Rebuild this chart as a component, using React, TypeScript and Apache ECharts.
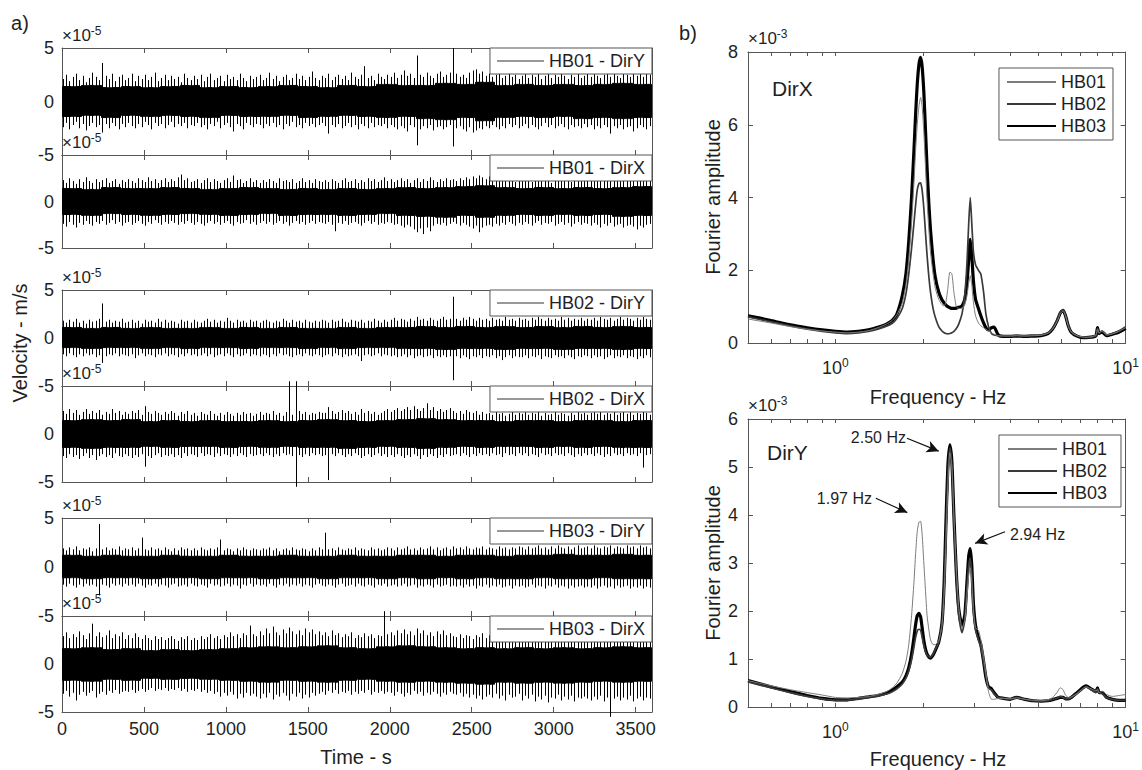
import React, { useEffect, useRef } from 'react';
import * as echarts from 'echarts';

// ================= Panel a) velocity records, units of 1e-5 m/s =================
const TIME_MAX = 3600;
const BIN_SECONDS = 20; // each spike-envelope value covers 20 s
const CORE_STEP = 6; // each core-band value covers 6 bins (120 s)

const TRACE_NAMES = ['HB01 - DirY', 'HB01 - DirX', 'HB02 - DirY', 'HB02 - DirX', 'HB03 - DirY', 'HB03 - DirX'];

// spike maxima / minima per 20 s bin, 20 values = 400 s per row
const HI_1 = [
  2.1, 2.5, 1.9, 2.3, 2.6, 2.0, 2.4, 1.8, 2.2, 2.7, 2.3, 2.0, 3.6, 2.4, 2.1, 2.6, 1.9, 2.3, 2.5, 2.0,
  2.2, 2.6, 1.9, 2.4, 2.1, 2.5, 2.0, 2.3, 2.7, 1.9, 2.2, 2.5, 2.0, 2.4, 2.1, 2.3, 1.8, 2.6, 2.2, 2.0,
  2.4, 2.1, 2.5, 1.9, 2.3, 2.6, 2.0, 2.2, 2.4, 1.9, 2.5, 2.1, 2.3, 2.0, 2.6, 2.2, 1.9, 2.4, 2.1, 2.3,
  2.5, 2.0, 2.2, 2.7, 2.1, 2.4, 1.9, 2.3, 2.5, 2.0, 2.2, 2.6, 2.1, 2.4, 2.0, 2.3, 2.8, 2.2, 2.0, 2.4,
  2.2, 2.6, 2.0, 2.3, 2.5, 2.1, 2.4, 2.0, 2.7, 2.3, 2.1, 2.5, 3.3, 2.2, 2.4, 2.0, 2.6, 2.3, 2.1, 2.5,
  2.3, 2.7, 2.2, 2.5, 2.9, 2.4, 2.6, 2.2, 4.3, 2.5, 2.3, 2.7, 2.4, 2.2, 2.6, 2.8, 2.3, 2.5, 2.7, 5.0,
  2.6, 2.3, 2.5, 2.2, 2.7, 2.9, 3.0, 2.6, 2.8, 2.4, 2.6, 2.3, 2.5, 2.7, 2.2, 2.4, 2.6, 2.3, 2.5, 2.1,
  2.4, 2.6, 2.2, 2.5, 2.3, 2.7, 2.1, 2.4, 2.6, 2.2, 2.5, 2.3, 2.8, 2.4, 2.1, 2.5, 2.3, 2.6, 2.2, 2.4,
  2.6, 2.3, 2.7, 2.4, 2.2, 2.5, 2.8, 2.3, 2.6, 2.4, 2.2, 2.7, 2.5, 2.3, 2.9, 2.4, 2.6, 2.3, 2.7, 2.5,
];
const LO_1 = [
  -2.4, -2.0, -2.6, -2.2, -1.9, -2.5, -2.1, -2.7, -2.3, -2.0, -2.4, -2.2, -2.9, -2.1, -2.5, -2.0, -2.3, -2.6, -2.1, -2.4,
  -2.0, -2.3, -2.5, -2.1, -2.4, -1.9, -2.2, -2.6, -2.0, -2.3, -2.1, -2.5, -2.2, -1.9, -2.4, -2.1, -2.3, -2.0, -2.5, -2.2,
  -2.3, -2.0, -2.4, -2.2, -2.6, -2.1, -2.3, -1.9, -2.5, -2.2, -2.0, -2.4, -2.8, -2.1, -2.3, -2.6, -2.0, -2.2, -2.4, -2.1,
  -2.2, -2.5, -2.1, -2.3, -2.0, -2.4, -2.2, -2.6, -2.1, -2.3, -1.9, -2.4, -2.2, -2.5, -2.0, -2.3, -2.1, -2.4, -2.2, -2.0,
  -2.3, -3.0, -2.2, -2.4, -2.1, -2.5, -2.3, -2.0, -2.4, -2.2, -2.6, -2.1, -2.3, -2.5, -2.0, -2.4, -2.2, -2.3, -2.1, -2.5,
  -2.2, -2.4, -2.6, -2.3, -2.5, -2.8, -2.2, -2.4, -4.1, -2.6, -2.3, -2.5, -2.2, -2.7, -2.4, -2.3, -2.6, -2.4, -2.2, -4.2,
  -2.5, -2.3, -2.6, -2.8, -2.4, -2.9, -2.7, -2.5, -2.6, -2.3, -2.5, -2.2, -2.4, -2.6, -2.3, -2.5, -2.1, -2.4, -2.2, -2.5,
  -2.3, -2.1, -2.5, -2.2, -2.4, -2.6, -2.3, -2.0, -2.4, -2.2, -2.5, -2.3, -2.1, -2.4, -2.6, -2.2, -2.4, -2.3, -2.5, -2.1,
  -2.4, -2.2, -2.6, -2.3, -2.5, -2.2, -2.4, -3.0, -2.3, -2.5, -2.2, -2.6, -2.4, -2.3, -2.8, -2.5, -2.2, -2.4, -2.6, -2.3,
];
const HI_2 = [
  2.3, 2.0, 2.5, 2.2, 1.9, 2.4, 2.1, 2.6, 2.2, 2.0, 2.4, 2.1, 2.3, 2.5, 2.0, 2.2, 2.4, 1.9, 2.3, 2.1,
  2.4, 2.2, 2.0, 2.5, 2.3, 2.1, 2.6, 2.2, 2.4, 2.0, 2.3, 2.5, 2.1, 2.4, 2.2, 2.6, 2.9, 2.3, 2.5, 2.1,
  2.2, 2.4, 2.0, 2.3, 2.5, 2.1, 2.4, 2.2, 2.0, 2.3, 2.5, 2.1, 2.8, 2.3, 2.4, 2.0, 2.2, 2.5, 2.1, 2.3,
  2.0, 2.3, 2.1, 2.4, 2.2, 2.0, 2.5, 2.2, 2.3, 2.1, 2.4, 2.0, 2.2, 2.5, 2.1, 2.3, 2.0, 2.4, 2.2, 2.1,
  2.3, 2.1, 2.4, 2.2, 2.0, 2.3, 2.5, 2.1, 2.2, 2.4, 2.0, 2.3, 2.1, 2.5, 2.2, 2.4, 2.1, 2.3, 2.6, 2.2,
  2.4, 2.1, 2.3, 2.5, 2.2, 2.4, 2.0, 2.3, 2.5, 2.1, 2.4, 2.2, 2.6, 2.3, 2.1, 2.4, 2.2, 2.5, 2.3, 2.4,
  2.2, 2.5, 2.3, 2.6, 2.4, 2.7, 2.5, 2.8, 2.6, 2.4, 2.7, 2.5, 2.3, 2.6, 2.4, 2.2, 2.5, 2.3, 2.1, 2.4,
  2.2, 2.5, 2.3, 2.1, 2.4, 2.6, 2.2, 2.5, 2.3, 2.0, 2.4, 2.2, 2.6, 2.3, 2.5, 2.1, 2.4, 2.2, 2.5, 2.3,
  2.6, 2.3, 2.5, 2.2, 2.7, 2.4, 2.6, 2.3, 2.5, 2.8, 2.4, 2.6, 2.3, 2.7, 2.5, 2.8, 2.4, 2.6, 2.9, 2.5,
];
const LO_2 = [
  -2.4, -2.7, -2.2, -2.5, -2.8, -2.3, -2.5, -2.1, -2.4, -2.6, -2.2, -2.4, -2.1, -2.5, -2.3, -2.0, -2.4, -2.2, -2.6, -2.3,
  -2.2, -2.5, -2.3, -2.1, -2.4, -2.6, -2.2, -2.4, -2.0, -2.3, -2.5, -2.2, -2.4, -2.1, -2.3, -2.5, -2.2, -2.4, -2.1, -2.3,
  -2.5, -2.2, -2.4, -2.6, -2.3, -2.1, -2.4, -2.2, -2.5, -2.3, -2.1, -2.4, -2.6, -2.2, -2.4, -2.3, -2.0, -2.4, -2.2, -2.5,
  -2.3, -2.1, -2.4, -2.2, -2.5, -2.3, -2.1, -2.4, -2.2, -2.6, -2.3, -2.1, -2.4, -2.2, -2.5, -2.3, -2.1, -2.4, -2.2, -2.3,
  -2.4, -2.2, -2.5, -3.2, -2.3, -2.4, -2.1, -2.5, -2.3, -2.2, -2.4, -2.6, -2.3, -2.1, -2.4, -2.2, -2.5, -2.3, -2.4, -2.2,
  -2.3, -2.5, -2.4, -2.6, -2.8, -2.5, -2.7, -3.0, -3.3, -2.9, -3.5, -2.8, -3.2, -2.6, -2.4, -2.5, -2.3, -2.6, -2.4, -2.2,
  -2.4, -2.6, -2.3, -2.5, -2.7, -2.9, -2.6, -3.3, -2.8, -2.6, -2.5, -2.7, -2.4, -2.6, -2.3, -2.5, -2.2, -2.4, -2.6, -2.3,
  -2.5, -2.2, -2.4, -2.6, -2.3, -2.1, -2.5, -2.3, -2.4, -2.2, -2.6, -2.4, -2.2, -2.5, -2.3, -2.7, -2.4, -2.2, -2.5, -2.3,
  -2.4, -2.6, -2.3, -2.5, -2.8, -2.4, -2.6, -2.3, -2.7, -2.5, -2.4, -2.8, -2.6, -2.5, -2.7, -3.0, -2.6, -2.8, -2.5, -2.4,
];
const HI_3 = [
  1.8, 1.6, 1.9, 1.7, 2.0, 1.6, 1.8, 1.5, 1.9, 1.7, 1.8, 2.0, 3.6, 1.7, 1.9, 1.6, 1.8, 1.7, 2.0, 1.6,
  1.7, 1.9, 1.6, 1.8, 1.5, 1.9, 1.7, 1.8, 1.6, 2.0, 1.7, 1.9, 1.6, 1.8, 1.7, 1.5, 1.9, 1.7, 1.8, 1.6,
  1.9, 1.7, 1.6, 1.8, 2.0, 1.7, 1.9, 1.6, 1.8, 1.7, 2.1, 1.8, 1.6, 1.9, 1.7, 1.8, 1.6, 1.9, 1.7, 1.8,
  1.6, 1.8, 1.9, 1.7, 1.6, 1.8, 1.7, 2.0, 1.8, 1.6, 1.9, 1.7, 1.8, 1.6, 1.9, 1.7, 1.6, 1.8, 1.7, 1.9,
  1.8, 1.6, 1.9, 1.7, 1.8, 2.0, 1.7, 1.6, 1.9, 1.8, 1.7, 1.9, 1.6, 1.8, 1.7, 2.0, 1.8, 1.6, 1.9, 1.7,
  1.9, 2.1, 1.8, 2.0, 1.9, 1.7, 2.0, 1.8, 2.2, 1.9, 2.0, 1.8, 2.1, 1.9, 1.8, 2.0, 2.2, 1.9, 2.0, 4.3,
  2.0, 1.8, 2.1, 1.9, 2.2, 2.0, 1.8, 2.1, 1.9, 2.0, 1.8, 2.1, 1.9, 2.0, 1.8, 2.2, 1.9, 2.0, 1.8, 2.1,
  1.9, 2.0, 1.8, 2.1, 1.9, 2.2, 2.0, 1.8, 2.1, 1.9, 2.0, 1.8, 2.2, 1.9, 2.1, 1.8, 2.0, 1.9, 2.1, 1.8,
  2.0, 1.9, 2.1, 1.8, 2.2, 2.0, 1.9, 2.1, 1.8, 2.0, 2.2, 1.9, 2.1, 2.0, 1.8, 2.1, 1.9, 2.2, 2.0, 1.9,
];
const LO_3 = [
  -1.7, -1.9, -1.6, -1.8, -2.0, -1.7, -1.9, -1.6, -1.8, -1.7, -2.0, -1.8, -2.6, -1.9, -1.7, -1.8, -1.6, -1.9, -1.7, -1.8,
  -1.9, -1.7, -2.1, -1.8, -1.6, -1.9, -1.7, -1.8, -2.0, -1.7, -1.8, -1.6, -1.9, -1.7, -1.8, -2.0, -1.7, -1.9, -1.6, -1.8,
  -1.7, -1.9, -1.8, -1.6, -1.9, -1.7, -2.0, -1.8, -1.7, -1.9, -1.6, -1.8, -2.0, -1.7, -1.9, -1.8, -1.6, -1.9, -1.7, -1.8,
  -1.9, -1.7, -1.8, -2.0, -1.7, -1.9, -1.6, -1.8, -1.7, -1.9, -2.0, -1.8, -1.7, -1.9, -1.6, -1.8, -1.9, -1.7, -1.8, -2.0,
  -1.8, -1.7, -1.9, -1.6, -1.8, -2.0, -1.7, -1.9, -1.8, -1.7, -1.9, -2.4, -1.8, -1.7, -1.9, -1.8, -1.6, -1.9, -1.7, -1.8,
  -1.9, -1.8, -2.0, -1.9, -1.7, -2.0, -1.8, -2.1, -1.9, -1.8, -2.0, -1.9, -1.8, -2.1, -1.9, -2.0, -1.8, -2.0, -1.9, -4.4,
  -1.9, -2.1, -1.8, -2.0, -2.2, -1.9, -2.0, -1.8, -2.1, -1.9, -2.0, -1.8, -2.1, -1.9, -2.3, -2.0, -1.8, -2.1, -1.9, -2.0,
  -2.0, -1.8, -2.1, -1.9, -2.0, -1.8, -2.2, -1.9, -2.0, -2.1, -1.8, -2.0, -1.9, -2.1, -1.8, -2.0, -2.2, -1.9, -2.0, -1.8,
  -1.9, -2.1, -1.8, -2.0, -1.9, -2.2, -2.0, -1.8, -2.1, -1.9, -2.0, -1.8, -2.1, -1.9, -2.0, -2.2, -1.9, -2.1, -1.8, -2.0,
];
const HI_4 = [
  2.4, 2.1, 2.6, 2.2, 2.5, 2.0, 2.3, 2.6, 2.1, 2.4, 2.2, 2.5, 2.0, 2.3, 2.1, 2.6, 2.2, 2.4, 2.0, 2.3,
  2.1, 2.4, 2.2, 2.5, 2.0, 2.9, 2.3, 2.1, 2.4, 2.2, 2.0, 2.3, 2.1, 2.4, 2.2, 1.9, 2.3, 2.1, 2.4, 2.0,
  2.2, 1.9, 2.3, 2.1, 2.0, 2.4, 2.1, 1.9, 2.2, 2.0, 2.3, 2.1, 1.9, 2.2, 2.0, 2.3, 2.1, 2.2, 1.9, 2.1,
  2.3, 2.0, 2.2, 2.1, 2.4, 2.0, 2.2, 1.9, 2.3, 5.5, 2.0, 5.5, 2.4, 2.1, 2.3, 2.0, 2.2, 2.1, 2.3, 2.2,
  2.2, 2.8, 2.4, 2.1, 2.3, 2.5, 2.2, 2.4, 2.1, 2.3, 2.0, 2.6, 2.2, 2.4, 2.1, 2.3, 2.0, 2.2, 2.4, 2.6,
  2.3, 2.5, 2.7, 2.4, 2.6, 2.8, 2.5, 2.9, 2.6, 2.4, 2.7, 3.2, 2.5, 2.8, 2.4, 2.6, 2.3, 2.5, 2.7, 2.4,
  2.2, 2.4, 2.1, 2.5, 2.3, 2.2, 2.4, 2.0, 2.3, 2.1, 2.2, 2.0, 2.3, 2.1, 2.2, 1.9, 2.1, 2.3, 2.0, 2.2,
  2.1, 2.3, 2.0, 2.2, 2.1, 2.3, 1.9, 2.2, 2.0, 2.1, 2.3, 2.0, 2.2, 2.1, 1.9, 2.2, 2.0, 2.3, 2.1, 2.2,
  2.0, 2.2, 2.4, 2.1, 2.3, 2.0, 2.2, 2.1, 2.3, 2.0, 2.2, 2.4, 2.1, 2.3, 2.0, 2.2, 2.1, 2.3, 2.2, 2.0,
];
const LO_4 = [
  -2.3, -2.5, -2.1, -2.4, -2.2, -2.6, -2.3, -2.0, -2.5, -2.2, -2.7, -2.3, -2.1, -2.4, -2.2, -2.5, -2.0, -2.3, -2.4, -2.1,
  -2.3, -2.5, -2.2, -2.4, -2.1, -3.4, -2.3, -2.5, -2.2, -2.0, -2.4, -2.2, -2.3, -2.1, -2.4, -2.2, -2.5, -2.0, -2.3, -2.1,
  -2.2, -2.4, -2.0, -2.3, -2.1, -2.2, -2.4, -2.0, -2.3, -2.1, -2.2, -2.4, -2.1, -2.3, -2.0, -2.2, -2.4, -2.1, -2.3, -2.2,
  -2.1, -2.3, -2.0, -2.2, -2.4, -2.1, -2.3, -2.0, -2.2, -2.1, -2.3, -5.5, -2.2, -2.4, -2.1, -2.3, -2.0, -2.2, -2.1, -2.3,
  -2.2, -4.8, -2.1, -2.3, -2.0, -2.2, -2.4, -2.1, -2.3, -2.0, -2.2, -2.5, -2.3, -2.1, -2.4, -2.2, -2.0, -2.3, -2.1, -2.4,
  -2.2, -2.4, -2.1, -2.3, -2.5, -2.2, -2.4, -2.1, -2.3, -2.6, -2.2, -2.4, -2.1, -2.3, -2.5, -2.2, -2.4, -2.1, -2.3, -2.2,
  -2.1, -2.3, -2.0, -2.2, -2.4, -2.1, -2.3, -2.0, -2.2, -2.1, -2.3, -2.0, -2.2, -2.1, -2.4, -2.0, -2.2, -2.1, -2.3, -2.0,
  -2.2, -2.0, -2.3, -2.1, -2.2, -2.4, -2.0, -2.2, -2.1, -2.3, -2.0, -2.2, -2.1, -2.3, -2.0, -2.2, -2.4, -2.1, -2.3, -2.0,
  -2.2, -2.1, -2.3, -2.0, -2.2, -2.4, -2.1, -2.3, -2.0, -2.2, -2.1, -2.3, -2.0, -2.2, -2.1, -2.3, -2.0, -3.5, -2.2, -2.1,
];
const HI_5 = [
  1.9, 1.7, 2.0, 1.8, 2.1, 1.7, 1.9, 1.8, 2.0, 1.6, 1.9, 4.4, 1.8, 2.0, 1.7, 1.9, 1.8, 2.1, 1.7, 1.9,
  1.8, 2.0, 1.7, 1.9, 3.0, 1.8, 1.7, 2.0, 1.8, 1.9, 1.7, 2.0, 1.8, 1.6, 1.9, 1.7, 2.0, 1.8, 1.9, 1.7,
  1.9, 1.7, 2.0, 1.8, 1.7, 1.9, 1.8, 2.0, 2.8, 1.7, 1.9, 1.8, 1.6, 1.9, 1.7, 2.0, 1.8, 1.7, 1.9, 1.8,
  1.7, 1.9, 1.8, 2.0, 1.7, 1.9, 1.6, 1.8, 1.9, 1.7, 2.0, 1.8, 1.7, 1.9, 1.8, 1.6, 1.9, 1.7, 2.0, 1.8,
  3.5, 1.8, 1.9, 1.7, 2.0, 1.8, 1.7, 1.9, 1.8, 2.0, 1.7, 1.9, 1.8, 1.7, 2.0, 1.8, 1.9, 1.7, 1.8, 2.0,
  1.9, 1.7, 2.0, 1.8, 1.9, 2.1, 1.8, 1.9, 1.7, 2.0, 1.8, 1.9, 2.1, 1.8, 2.0, 1.7, 1.9, 2.0, 1.8, 2.1,
  1.9, 2.0, 1.8, 2.1, 1.9, 1.8, 2.0, 1.9, 2.1, 1.8, 2.0, 1.9, 1.8, 2.1, 1.9, 2.0, 1.8, 2.0, 1.9, 2.1,
  2.0, 1.8, 2.1, 1.9, 2.0, 2.2, 1.9, 2.0, 1.8, 2.1, 1.9, 2.2, 2.0, 1.9, 2.1, 1.8, 2.0, 2.2, 1.9, 2.0,
  2.1, 1.9, 2.2, 2.0, 1.9, 2.1, 2.0, 2.2, 1.9, 2.1, 2.0, 1.9, 2.2, 2.0, 2.1, 1.9, 2.2, 2.0, 2.1, 1.9,
];
const LO_5 = [
  -1.8, -2.0, -1.7, -1.9, -2.1, -1.8, -2.0, -1.7, -1.9, -1.8, -2.0, -2.9, -1.8, -1.9, -2.1, -1.7, -1.9, -1.8, -2.0, -1.7,
  -1.9, -1.8, -2.0, -1.7, -1.9, -2.1, -1.8, -1.9, -1.7, -2.0, -1.8, -1.9, -2.1, -1.8, -1.7, -2.0, -1.9, -1.8, -2.0, -1.7,
  -1.9, -2.0, -1.8, -1.9, -2.1, -1.7, -1.9, -1.8, -2.0, -1.9, -1.7, -2.0, -1.8, -1.9, -2.2, -1.8, -1.9, -1.7, -2.0, -1.8,
  -1.9, -1.8, -2.0, -1.7, -1.9, -2.1, -1.8, -1.9, -1.7, -2.0, -1.8, -1.9, -1.7, -2.0, -1.8, -1.9, -2.1, -1.8, -1.7, -1.9,
  -2.0, -1.8, -1.9, -2.1, -1.8, -1.7, -2.0, -1.9, -1.8, -2.0, -1.7, -1.9, -2.0, -1.8, -1.9, -2.1, -1.8, -1.9, -1.7, -2.0,
  -1.9, -1.8, -2.0, -1.9, -1.7, -2.0, -1.9, -1.8, -2.1, -1.9, -2.0, -1.8, -1.9, -2.1, -1.8, -2.0, -1.9, -1.8, -2.0, -1.9,
  -2.0, -1.9, -2.1, -1.8, -2.0, -1.9, -2.2, -1.9, -2.0, -1.8, -2.1, -1.9, -2.0, -1.8, -2.1, -2.0, -1.9, -2.2, -1.9, -2.0,
  -1.9, -2.1, -2.0, -1.8, -2.1, -1.9, -2.0, -2.2, -1.9, -2.0, -1.8, -2.1, -1.9, -2.0, -2.2, -1.9, -2.1, -2.0, -1.9, -2.1,
  -2.0, -2.1, -1.9, -2.2, -2.0, -1.9, -2.1, -2.0, -2.2, -1.9, -2.1, -2.0, -1.9, -2.2, -2.0, -2.1, -1.9, -2.2, -2.0, -2.1,
];
const HI_6 = [
  2.9, 3.3, 2.7, 3.1, 2.8, 3.4, 3.0, 2.6, 3.2, 4.2, 2.9, 3.3, 2.8, 3.0, 3.5, 2.7, 3.1, 2.9, 3.3, 2.6,
  3.0, 2.7, 3.2, 2.8, 2.6, 3.0, 2.7, 2.5, 2.9, 2.6, 2.8, 2.5, 2.7, 2.9, 2.6, 2.4, 2.8, 2.6, 2.9, 2.5,
  2.7, 2.5, 2.9, 2.6, 2.8, 3.1, 2.7, 2.9, 2.6, 3.0, 2.8, 3.3, 2.9, 3.1, 2.7, 3.2, 3.0, 4.0, 3.1, 2.9,
  3.4, 3.0, 3.7, 3.2, 3.9, 3.3, 3.0, 3.6, 3.2, 3.8, 3.4, 3.1, 3.5, 3.0, 3.7, 3.3, 3.6, 3.1, 3.4, 3.0,
  3.3, 2.9, 3.5, 3.0, 3.2, 2.8, 3.1, 2.9, 3.3, 2.7, 3.0, 2.8, 3.2, 2.9, 3.1, 2.7, 3.0, 2.9, 5.5, 3.1,
  3.3, 3.0, 3.5, 3.2, 3.6, 3.1, 3.4, 3.0, 3.7, 3.2, 3.5, 3.0, 3.3, 2.9, 3.4, 3.1, 3.5, 3.0, 3.2, 2.9,
  2.8, 3.1, 2.7, 3.0, 2.9, 2.6, 3.0, 2.8, 3.2, 2.7, 3.0, 2.9, 3.1, 2.8, 3.0, 2.7, 3.2, 2.9, 3.0, 2.8,
  3.1, 2.8, 3.0, 2.7, 3.2, 2.9, 3.0, 2.8, 3.1, 2.7, 3.0, 2.9, 3.2, 2.8, 3.0, 2.9, 3.1, 2.7, 3.0, 2.8,
  3.0, 2.8, 3.1, 2.9, 2.7, 3.0, 2.8, 3.2, 2.9, 3.0, 2.7, 3.1, 2.8, 3.0, 3.2, 2.9, 3.1, 2.8, 3.0, 2.9,
];
const LO_6 = [
  -3.1, -2.8, -3.4, -3.0, -3.8, -3.2, -2.9, -3.3, -3.0, -2.8, -3.5, -3.1, -2.9, -3.2, -2.8, -3.0, -2.7, -3.1, -2.9, -2.8,
  -2.9, -2.7, -3.0, -2.8, -2.6, -2.9, -2.7, -2.5, -2.8, -2.6, -2.7, -2.5, -2.8, -2.6, -2.7, -2.5, -2.8, -2.6, -2.9, -2.7,
  -2.8, -2.6, -2.9, -2.7, -3.0, -2.8, -3.1, -2.9, -3.4, -3.0, -3.3, -2.9, -3.2, -3.6, -3.1, -3.5, -3.0, -3.3, -3.1, -3.4,
  -3.6, -3.1, -3.5, -3.0, -3.7, -3.2, -3.4, -3.0, -3.3, -3.8, -3.1, -3.4, -3.0, -3.6, -3.2, -3.5, -3.0, -3.3, -3.1, -2.9,
  -3.2, -2.8, -3.0, -2.7, -3.1, -2.9, -3.0, -2.8, -3.2, -2.9, -3.1, -2.8, -3.0, -2.7, -3.2, -2.9, -3.0, -2.8, -3.1, -2.9,
  -3.0, -3.3, -2.9, -3.1, -3.4, -3.0, -3.2, -2.8, -3.1, -2.9, -3.3, -3.0, -3.2, -2.9, -3.1, -3.4, -3.0, -3.2, -2.9, -3.1,
  -3.2, -3.0, -3.4, -3.1, -3.5, -3.2, -3.6, -3.3, -3.7, -3.4, -3.2, -3.5, -3.1, -3.6, -3.3, -3.8, -3.2, -3.5, -3.4, -3.1,
  -3.8, -3.3, -3.6, -3.2, -3.9, -3.4, -3.7, -3.3, -4.0, -3.5, -3.6, -3.2, -3.8, -3.4, -3.7, -3.3, -3.9, -3.5, -3.6, -3.4,
  -3.6, -3.8, -3.4, -3.7, -3.3, -3.9, -3.5, -5.5, -3.6, -3.4, -3.8, -3.5, -3.7, -3.3, -3.9, -3.6, -3.4, -3.8, -3.5, -3.6,
];

// dense core band (upper / lower) per 120 s
const CORE_TOP_1 = [1.4, 1.5, 1.3, 1.4, 1.3, 1.4, 1.5, 1.3, 1.4, 1.3, 1.4, 1.5, 1.4, 1.3, 1.5, 1.4, 1.6, 1.5, 1.5, 1.7, 1.6, 1.8, 1.5, 1.6, 1.5, 1.6, 1.5, 1.6, 1.7, 1.6];
const CORE_BOT_1 = [-1.4, -1.3, -1.5, -1.3, -1.4, -1.3, -1.4, -1.5, -1.3, -1.4, -1.4, -1.3, -1.5, -1.4, -1.3, -1.4, -1.5, -1.4, -1.6, -1.7, -1.5, -1.8, -1.5, -1.4, -1.5, -1.4, -1.6, -1.5, -1.6, -1.5];
const CORE_TOP_2 = [1.4, 1.3, 1.5, 1.4, 1.4, 1.5, 1.4, 1.3, 1.4, 1.5, 1.4, 1.3, 1.4, 1.3, 1.4, 1.3, 1.4, 1.5, 1.4, 1.5, 1.6, 1.7, 1.5, 1.4, 1.5, 1.4, 1.5, 1.4, 1.5, 1.6];
const CORE_BOT_2 = [-1.4, -1.5, -1.3, -1.4, -1.5, -1.4, -1.3, -1.4, -1.5, -1.4, -1.3, -1.5, -1.4, -1.4, -1.5, -1.4, -1.3, -1.5, -1.6, -1.7, -1.5, -1.7, -1.5, -1.4, -1.5, -1.4, -1.5, -1.4, -1.6, -1.5];
const CORE_TOP_3 = [1.1, 1.0, 1.1, 1.0, 1.1, 1.0, 1.0, 1.1, 1.0, 1.1, 1.0, 1.1, 1.0, 1.0, 1.1, 1.0, 1.1, 1.1, 1.2, 1.1, 1.2, 1.1, 1.2, 1.1, 1.2, 1.1, 1.2, 1.1, 1.2, 1.1];
const CORE_BOT_3 = [-1.0, -1.1, -1.0, -1.0, -1.1, -1.0, -1.1, -1.0, -1.0, -1.1, -1.0, -1.0, -1.1, -1.0, -1.1, -1.0, -1.0, -1.1, -1.1, -1.2, -1.1, -1.1, -1.2, -1.1, -1.1, -1.2, -1.1, -1.1, -1.2, -1.1];
const CORE_TOP_4 = [1.4, 1.5, 1.4, 1.5, 1.3, 1.4, 1.3, 1.4, 1.3, 1.3, 1.4, 1.3, 1.4, 1.5, 1.4, 1.3, 1.4, 1.5, 1.6, 1.5, 1.4, 1.4, 1.3, 1.4, 1.4, 1.3, 1.4, 1.4, 1.3, 1.4];
const CORE_BOT_4 = [-1.4, -1.5, -1.4, -1.4, -1.3, -1.4, -1.3, -1.3, -1.4, -1.3, -1.4, -1.3, -1.4, -1.4, -1.5, -1.4, -1.3, -1.4, -1.5, -1.4, -1.3, -1.4, -1.3, -1.3, -1.4, -1.3, -1.4, -1.3, -1.4, -1.4];
const CORE_TOP_5 = [1.2, 1.1, 1.2, 1.1, 1.1, 1.2, 1.1, 1.1, 1.2, 1.1, 1.1, 1.2, 1.1, 1.1, 1.2, 1.1, 1.1, 1.2, 1.2, 1.1, 1.2, 1.2, 1.1, 1.2, 1.2, 1.3, 1.2, 1.2, 1.3, 1.2];
const CORE_BOT_5 = [-1.1, -1.2, -1.1, -1.1, -1.2, -1.1, -1.1, -1.2, -1.1, -1.1, -1.2, -1.1, -1.1, -1.2, -1.1, -1.1, -1.2, -1.1, -1.2, -1.1, -1.2, -1.1, -1.2, -1.2, -1.1, -1.2, -1.2, -1.1, -1.2, -1.2];
const CORE_TOP_6 = [1.6, 1.7, 1.5, 1.6, 1.4, 1.5, 1.4, 1.5, 1.6, 1.7, 1.8, 1.7, 1.8, 1.9, 1.7, 1.6, 1.8, 1.9, 1.8, 1.7, 1.6, 1.7, 1.6, 1.7, 1.6, 1.7, 1.6, 1.7, 1.8, 1.7];
const CORE_BOT_6 = [-1.7, -1.8, -1.6, -1.7, -1.5, -1.6, -1.5, -1.6, -1.7, -1.8, -1.9, -1.7, -1.8, -1.9, -1.7, -1.6, -1.8, -1.9, -1.8, -1.9, -2.0, -2.1, -1.9, -2.0, -1.9, -2.0, -1.9, -1.8, -1.9, -1.8];

const TRACE_HI = [HI_1, HI_2, HI_3, HI_4, HI_5, HI_6];
const TRACE_LO = [LO_1, LO_2, LO_3, LO_4, LO_5, LO_6];
const TRACE_CORE_TOP = [CORE_TOP_1, CORE_TOP_2, CORE_TOP_3, CORE_TOP_4, CORE_TOP_5, CORE_TOP_6];
const TRACE_CORE_BOT = [CORE_BOT_1, CORE_BOT_2, CORE_BOT_3, CORE_BOT_4, CORE_BOT_5, CORE_BOT_6];

// ================= Panel b) Fourier amplitude spectra, units of 1e-3 =================
const FREQ = [
  0.5, 0.6, 0.7, 0.8, 0.9, 1.0, 1.1, 1.2, 1.3, 1.4,
  1.5, 1.57, 1.63, 1.7, 1.75, 1.79, 1.83, 1.865, 1.89, 1.914,
  1.94, 1.966, 1.99, 2.017, 2.045, 2.07, 2.1, 2.127, 2.17, 2.21,
  2.27, 2.33, 2.37, 2.4, 2.44, 2.48, 2.52, 2.56, 2.61, 2.66,
  2.73, 2.79, 2.84, 2.88, 2.915, 2.95, 2.99, 3.04, 3.11, 3.17,
  3.24, 3.3, 3.37, 3.45, 3.52, 3.64, 3.8, 4.0, 4.2, 4.5,
  4.8, 5.1, 5.4, 5.6, 5.8, 5.95, 6.09, 6.2, 6.35, 6.5,
  6.8, 7.1, 7.3, 7.6, 7.9, 8.0, 8.1, 8.3, 8.6, 9.0,
  9.5, 10,
];
const STATIONS = ['HB01', 'HB02', 'HB03'];

const DIRX_HB01 = [
  0.66, 0.55, 0.45, 0.38, 0.33, 0.30, 0.28, 0.30, 0.34, 0.42,
  0.52, 0.62, 0.78, 1.10, 1.60, 2.30, 3.30, 4.40, 5.30, 6.00,
  6.50, 6.75, 6.50, 5.80, 4.80, 3.90, 3.10, 2.50, 1.90, 1.50,
  1.20, 1.05, 1.02, 1.10, 1.50, 1.95, 1.90, 1.40, 1.00, 0.95,
  0.95, 1.05, 1.30, 1.65, 1.85, 1.60, 1.10, 0.75, 0.55, 0.47,
  0.42, 0.38, 0.33, 0.28, 0.24, 0.20, 0.19, 0.19, 0.20, 0.19,
  0.20, 0.21, 0.27, 0.38, 0.58, 0.80, 0.88, 0.75, 0.45, 0.30,
  0.20, 0.17, 0.16, 0.17, 0.22, 0.38, 0.28, 0.34, 0.22, 0.25,
  0.32, 0.42,
];
const DIRX_HB02 = [
  0.72, 0.58, 0.47, 0.38, 0.32, 0.28, 0.26, 0.28, 0.32, 0.38,
  0.46, 0.54, 0.68, 0.95, 1.35, 1.90, 2.60, 3.30, 3.80, 4.20,
  4.38, 4.40, 4.20, 3.70, 3.00, 2.40, 1.80, 1.40, 0.95, 0.70,
  0.45, 0.33, 0.28, 0.26, 0.25, 0.26, 0.28, 0.32, 0.40, 0.52,
  0.80, 1.30, 2.20, 3.30, 4.00, 3.30, 2.50, 2.15, 2.00, 1.90,
  1.40, 0.80, 0.45, 0.26, 0.22, 0.20, 0.20, 0.20, 0.21, 0.20,
  0.21, 0.22, 0.28, 0.40, 0.62, 0.85, 0.92, 0.78, 0.48, 0.30,
  0.20, 0.16, 0.15, 0.16, 0.20, 0.40, 0.27, 0.33, 0.22, 0.26,
  0.34, 0.45,
];
const DIRX_HB03 = [
  0.75, 0.62, 0.50, 0.42, 0.36, 0.32, 0.30, 0.32, 0.36, 0.43,
  0.52, 0.62, 0.80, 1.30, 1.90, 2.80, 4.00, 5.30, 6.30, 7.10,
  7.65, 7.85, 7.60, 6.90, 5.80, 4.80, 3.80, 3.10, 2.30, 1.80,
  1.40, 1.18, 1.10, 1.05, 1.00, 0.97, 0.95, 0.95, 0.96, 0.98,
  1.02, 1.20, 1.65, 2.30, 2.85, 2.40, 1.70, 1.20, 0.95, 0.75,
  0.55, 0.42, 0.36, 0.42, 0.44, 0.22, 0.18, 0.18, 0.19, 0.18,
  0.19, 0.20, 0.26, 0.38, 0.60, 0.82, 0.90, 0.76, 0.46, 0.29,
  0.19, 0.15, 0.15, 0.16, 0.20, 0.42, 0.26, 0.30, 0.20, 0.24,
  0.30, 0.40,
];
const DIRY_HB01 = [
  0.55, 0.44, 0.36, 0.30, 0.25, 0.20, 0.19, 0.20, 0.22, 0.26,
  0.32, 0.40, 0.50, 0.70, 0.95, 1.30, 1.90, 2.60, 3.20, 3.65,
  3.85, 3.87, 3.60, 3.00, 2.40, 1.90, 1.60, 1.40, 1.30, 1.30,
  1.38, 1.70, 2.40, 3.30, 4.60, 5.30, 5.00, 4.00, 2.90, 2.10,
  1.65, 1.80, 2.30, 2.75, 2.90, 2.60, 2.00, 1.65, 1.60, 1.40,
  1.05, 0.70, 0.32, 0.16, 0.16, 0.18, 0.18, 0.17, 0.19, 0.16,
  0.14, 0.13, 0.15, 0.20, 0.30, 0.40, 0.36, 0.25, 0.20, 0.21,
  0.28, 0.38, 0.42, 0.38, 0.34, 0.36, 0.30, 0.33, 0.26, 0.22,
  0.24, 0.26,
];
const DIRY_HB02 = [
  0.52, 0.40, 0.30, 0.22, 0.17, 0.14, 0.14, 0.17, 0.20, 0.23,
  0.27, 0.32, 0.38, 0.48, 0.60, 0.75, 0.98, 1.25, 1.45, 1.58,
  1.62, 1.60, 1.45, 1.28, 1.15, 1.08, 1.05, 1.04, 1.10, 1.20,
  1.35, 1.75, 2.50, 3.50, 4.80, 5.40, 5.00, 3.90, 2.70, 1.90,
  1.55, 1.80, 2.50, 2.95, 3.10, 2.75, 2.00, 1.60, 1.40, 1.25,
  0.95, 0.65, 0.40, 0.35, 0.28, 0.20, 0.18, 0.16, 0.20, 0.16,
  0.13, 0.12, 0.13, 0.16, 0.18, 0.22, 0.20, 0.17, 0.17, 0.20,
  0.28, 0.37, 0.42, 0.36, 0.30, 0.38, 0.30, 0.28, 0.20, 0.16,
  0.14, 0.14,
];
const DIRY_HB03 = [
  0.55, 0.42, 0.32, 0.24, 0.18, 0.15, 0.15, 0.18, 0.21, 0.24,
  0.29, 0.35, 0.42, 0.52, 0.65, 0.82, 1.10, 1.45, 1.72, 1.90,
  1.95, 1.88, 1.65, 1.38, 1.20, 1.10, 1.04, 1.02, 1.08, 1.18,
  1.35, 1.75, 2.60, 3.70, 5.00, 5.46, 5.10, 4.00, 2.80, 2.05,
  1.70, 1.90, 2.60, 3.15, 3.30, 2.95, 2.15, 1.70, 1.45, 1.30,
  0.95, 0.62, 0.42, 0.38, 0.30, 0.20, 0.18, 0.16, 0.20, 0.16,
  0.13, 0.12, 0.13, 0.15, 0.18, 0.20, 0.20, 0.17, 0.17, 0.20,
  0.30, 0.40, 0.44, 0.38, 0.32, 0.40, 0.30, 0.30, 0.20, 0.16,
  0.14, 0.14,
];
const DIRX_SPECTRA = [DIRX_HB01, DIRX_HB02, DIRX_HB03];
const DIRY_SPECTRA = [DIRY_HB01, DIRY_HB02, DIRY_HB03];

// frequency tick marks and labelled decades
const FREQ_TICKS = [0.6, 0.7, 0.8, 0.9, 1, 2, 3, 4, 5, 6, 7, 8, 9, 10];
const FREQ_LABELS = [1, 10];

// peak annotations in the DirY panel: label, arrow start [Hz, amp], arrow tip [Hz, amp]
const PEAK_LABELS = ['2.50 Hz', '1.97 Hz', '2.94 Hz'];
const ARROW_FROM = [[1.765, 5.6], [1.378, 4.35], [3.84, 3.65]];
const ARROW_TO = [[2.27, 5.33], [1.769, 4.05], [3.03, 3.41]];

// ================= layout / style =================
const FONT = '"Liberation Sans", Arial, Helvetica, sans-serif';
const AXIS_COLOR = '#555';
const TEXT_COLOR = '#1f1f1f';
const LEFT_LAYOUT = [
  { top: 48, height: 107, showMax: true },
  { top: 155, height: 93, showMax: false },
  { top: 290, height: 96, showMax: true },
  { top: 386, height: 96, showMax: false },
  { top: 518, height: 98, showMax: true },
  { top: 616, height: 96, showMax: false },
];
const RIGHT_LAYOUT = [
  { top: 52, height: 291, max: 8, interval: 2 },
  { top: 419, height: 288, max: 6, interval: 1 },
];
const STATION_STYLE = [
  { color: '#7c7c7c', width: 1 },
  { color: '#3a3a3a', width: 1.7 },
  { color: '#000000', width: 3.2 },
];
const STATION_Z = [5, 4, 3];

const expRich = {
  a: { fontSize: 17, fontFamily: FONT, color: TEXT_COLOR, lineHeight: 20 },
  b: { fontSize: 12, fontFamily: FONT, color: TEXT_COLOR, verticalAlign: 'top' },
};

function buildOption() {
  const grid: any[] = [];
  const xAxis: any[] = [];
  const yAxis: any[] = [];
  const series: any[] = [];
  const legend: any[] = [];

  const axisLine = { show: true, onZero: false, lineStyle: { color: AXIS_COLOR, width: 1 } };
  const tick = { show: true, inside: true, length: 5, lineStyle: { color: AXIS_COLOR } };
  const labelBase = { fontSize: 18, color: TEXT_COLOR, fontFamily: FONT };

  LEFT_LAYOUT.forEach((g, i) => {
    grid.push({ left: 62, width: 590, top: g.top, height: g.height });
    const isLast = i === LEFT_LAYOUT.length - 1;
    ['bottom', 'top'].forEach((pos) => {
      xAxis.push({
        type: 'value', gridIndex: i, position: pos, min: 0, max: TIME_MAX, interval: 500,
        axisLine, axisTick: tick, splitLine: { show: false },
        axisLabel: pos === 'bottom' && isLast
          ? { ...labelBase, show: true, margin: 8, showMaxLabel: false, formatter: (v: number) => String(v) }
          : { show: false },
      });
    });
    ['left', 'right'].forEach((pos) => {
      yAxis.push({
        type: 'value', gridIndex: i, position: pos, min: -5, max: 5, interval: 5,
        axisLine, axisTick: tick, splitLine: { show: false },
        name: pos === 'left' ? '{a|×10}{b|-5}' : '',
        nameLocation: 'end', nameGap: 3,
        nameTextStyle: { align: 'left', verticalAlign: 'bottom', rich: expRich },
        axisLabel: pos === 'left'
          ? { ...labelBase, show: true, margin: 8, showMaxLabel: g.showMax }
          : { show: false },
      });
    });
    const hi = TRACE_HI[i];
    const lo = TRACE_LO[i];
    const top = TRACE_CORE_TOP[i];
    const bot = TRACE_CORE_BOT[i];
    series.push({
      type: 'candlestick', name: TRACE_NAMES[i], xAxisIndex: 2 * i, yAxisIndex: 2 * i,
      silent: true, clip: true, barWidth: '100%',
      itemStyle: { color: '#000', color0: '#000', borderColor: '#000', borderColor0: '#000', borderWidth: 1 },
      data: hi.map((h, k) => {
        const c = Math.floor(k / CORE_STEP);
        return [k * BIN_SECONDS + BIN_SECONDS / 2, bot[c], top[c], lo[k], h];
      }),
    });
    legend.push({
      data: [TRACE_NAMES[i]], right: 490, top: g.top, orient: 'horizontal',
      selectedMode: false, icon: 'rect', itemWidth: 47, itemHeight: 1.2,
      padding: [4, 7, 4, 7], backgroundColor: '#fff', borderColor: '#555', borderWidth: 1,
      itemStyle: { color: '#333', borderWidth: 0 },
      textStyle: { fontSize: 18, color: TEXT_COLOR, fontFamily: FONT },
    });
  });

  RIGHT_LAYOUT.forEach((g, p) => {
    const gi = LEFT_LAYOUT.length + p;
    grid.push({ left: 748, width: 380, top: g.top, height: g.height });
    ['bottom', 'top'].forEach((pos) => {
      xAxis.push({
        type: 'log', logBase: 10, gridIndex: gi, position: pos, min: 0.5, max: 10,
        axisLine, splitLine: { show: false }, minorTick: { show: false },
        axisTick: { ...tick, length: 4, customValues: FREQ_TICKS },
        axisLabel: pos === 'bottom'
          ? {
              show: true, customValues: FREQ_LABELS, margin: 14,
              formatter: (v: number) => `{a|10}{b|${Math.round(Math.log10(v))}}`,
              rich: {
                a: { fontSize: 18, fontFamily: FONT, color: TEXT_COLOR, lineHeight: 22 },
                b: { fontSize: 12, fontFamily: FONT, color: TEXT_COLOR, verticalAlign: 'top' },
              },
            }
          : { show: false },
      });
    });
    ['left', 'right'].forEach((pos) => {
      yAxis.push({
        type: 'value', gridIndex: gi, position: pos, min: 0, max: g.max, interval: g.interval,
        axisLine, axisTick: tick, splitLine: { show: false },
        name: pos === 'left' ? '{a|×10}{b|-3}' : '',
        nameLocation: 'end', nameGap: 4,
        nameTextStyle: { align: 'left', verticalAlign: 'bottom', rich: expRich },
        axisLabel: pos === 'left' ? { ...labelBase, show: true, margin: 10 } : { show: false },
      });
    });
    const spectra = p === 0 ? DIRX_SPECTRA : DIRY_SPECTRA;
    STATIONS.forEach((st, s) => {
      const vals = spectra[s];
      const ser: any = {
        type: 'line', name: st, xAxisIndex: 2 * gi, yAxisIndex: 2 * gi,
        symbol: 'none', smooth: 0.2, silent: true, z: STATION_Z[s],
        lineStyle: { ...STATION_STYLE[s] }, itemStyle: { color: STATION_STYLE[s].color },
        data: FREQ.map((f, k) => [f, vals[k]]),
      };
      if (p === 1 && s === 2) {
        ser.markLine = {
          silent: true, symbol: ['none', 'arrow'], symbolSize: [9, 12],
          lineStyle: { color: '#111', width: 1.2, type: 'solid' },
          label: { show: false },
          data: ARROW_FROM.map((a, k) => [{ coord: a }, { coord: ARROW_TO[k] }]),
        };
      }
      series.push(ser);
    });
    legend.push({
      data: STATIONS, orient: 'vertical', right: p === 0 ? 29 : 21, top: p === 0 ? 68 : 435,
      selectedMode: false, itemWidth: 49, itemHeight: p === 0 ? 18 : 17, itemGap: 4,
      padding: p === 0 ? [5, 7, 5, 7] : [5, 14, 5, 8],
      backgroundColor: '#fff', borderColor: '#555', borderWidth: 1,
      itemStyle: { color: 'rgba(0,0,0,0)', borderColor: 'rgba(0,0,0,0)', borderWidth: 0 },
      textStyle: { fontSize: 18, color: TEXT_COLOR, fontFamily: FONT },
    });
  });

  const txt = (text: string, x: number, y: number, size: number, align = 'center', rotation = 0) => ({
    type: 'text', x, y, rotation, silent: true,
    style: { text, fontSize: size, fontFamily: FONT, fill: TEXT_COLOR, align, verticalAlign: 'middle' },
  });

  const graphic = [
    txt('a)', 20, 23, 20),
    txt('b)', 688, 33, 20),
    txt('Velocity - m/s', 20, 343, 20, 'center', Math.PI / 2),
    txt('Time - s', 356, 757, 20),
    txt('Fourier amplitude', 713, 197, 20, 'center', Math.PI / 2),
    txt('Fourier amplitude', 713, 563, 20, 'center', Math.PI / 2),
    txt('Frequency - Hz', 938, 397, 20),
    txt('Frequency - Hz', 938, 759, 20),
    txt('DirX', 772, 88, 21, 'left'),
    txt('DirY', 767, 452, 21, 'left'),
    txt(PEAK_LABELS[0], 906, 437, 16, 'right'),
    txt(PEAK_LABELS[1], 872, 498, 16, 'right'),
    txt(PEAK_LABELS[2], 1010, 534, 16, 'left'),
  ];

  return {
    animation: false,
    backgroundColor: '#fff',
    textStyle: { fontFamily: FONT },
    grid, xAxis, yAxis, series, legend, graphic,
  };
}

export default function App() {
  const ref = useRef<HTMLDivElement>(null);
  useEffect(() => {
    if (!ref.current) return;
    const chart = echarts.init(ref.current, null, { renderer: 'svg' });
    chart.setOption(buildOption() as any);
    return () => chart.dispose();
  }, []);
  return (
    <div
      ref={ref}
      style={{ position: 'fixed', left: 0, top: 0, width: 1142, height: 770, background: '#fff' }}
    />
  );
}
